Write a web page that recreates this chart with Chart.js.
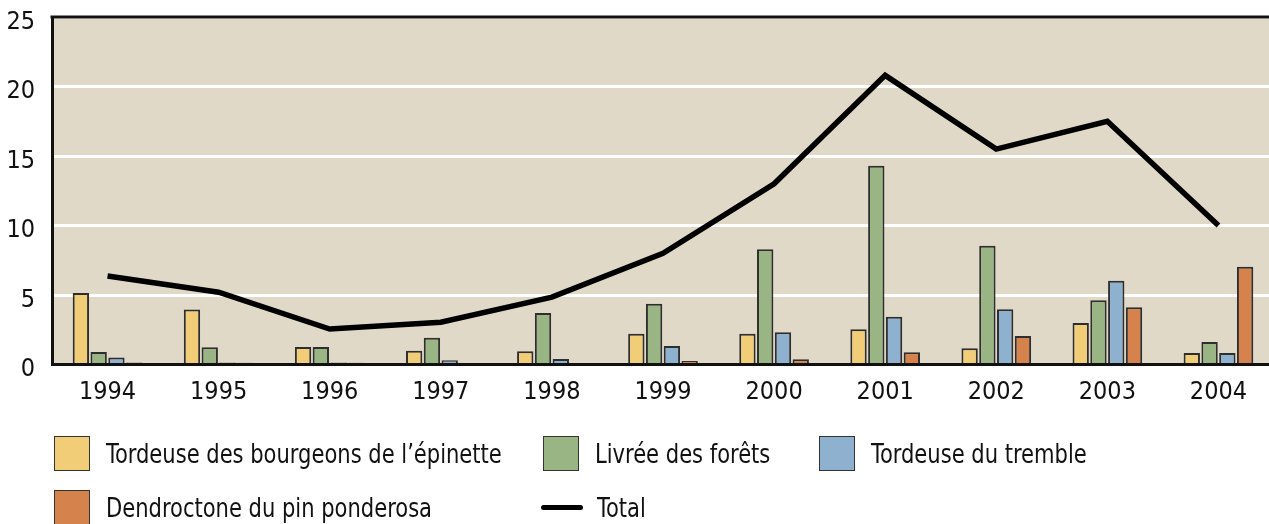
<!DOCTYPE html>
<html lang="fr">
<head>
    <meta charset="UTF-8">
    <title>Superficie defoliee</title>
    <script src="https://cdn.jsdelivr.net/npm/chart.js@4.4.1/dist/chart.umd.min.js"></script>
    <style>
        body { margin: 0; background: #fff; overflow: hidden; }
        #wrap { position: relative; width: 1269px; height: 524px; overflow: hidden; }
        #chart { position: absolute; left: 0; top: 0; }
        .leg { position: absolute; height: 35px; display: flex; align-items: center; white-space: nowrap;
               font: 26px "Liberation Sans Narrow", "DejaVu Sans Condensed", sans-serif; color: #111; }
        .leg .txt { display: inline-block; transform: scaleX(0.9); transform-origin: left center; }
        .box { width: 36px; height: 35px; border: 1.5px solid #333; box-sizing: border-box; margin-right: 16px; }
        .dash { width: 42px; height: 5px; background: #000; border-radius: 3px; margin-right: 14px; }
    </style>
</head>

<body>
    <div id="wrap">
        <canvas id="chart" width="1274" height="524"></canvas>
        <div id="legend"></div>
    </div>
    <script>

        const years = ["1994", "1995", "1996", "1997", "1998", "1999", "2000", "2001", "2002", "2003", "2004"];

        // values
        const tordeuseEpinette = [5.15, 3.95, 1.26, 0.99, 0.95, 2.22, 2.22, 2.53, 1.17, 2.99, 0.83];
        const livreeForets = [0.9, 1.25, 1.26, 1.93, 3.7, 4.37, 8.29, 14.3, 8.55, 4.62, 1.62];
        const tordeuseTremble = [0.5, 0.15, 0.15, 0.3, 0.4, 1.33, 2.32, 3.44, 3.97, 6.03, 0.83];
        const dendroctone = [0.15, 0.12, 0.12, 0.1, 0.1, 0.25, 0.37, 0.88, 2.05, 4.11, 7.04];
        const total = [6.37, 5.2, 2.55, 3.04, 4.85, 8.0, 13.0, 20.8, 15.5, 17.5, 10.0];

        const yTicks = [0, 5, 10, 15, 20, 25];

        const fontFam = '"Liberation Sans Narrow", "DejaVu Sans Condensed", sans-serif';

        const barSets = [
            { label: "Tordeuse des bourgeons de l\u2019\u00e9pinette", data: tordeuseEpinette, color: "#f1cd78" },
            { label: "Livr\u00e9e des for\u00eats", data: livreeForets, color: "#98b583" },
            { label: "Tordeuse du tremble", data: tordeuseTremble, color: "#8eb1d0" },
            { label: "Dendroctone du pin ponderosa", data: dendroctone, color: "#d5824d" }
        ];

        // beige plot background + top frame line
        const frame = {
            id: "frame",
            beforeDraw(chart) {
                const a = chart.chartArea;
                const ctx = chart.ctx;
                ctx.save();
                ctx.fillStyle = "#e1d9c8";
                ctx.fillRect(a.left, a.top, a.right - a.left, a.bottom - a.top);
                ctx.restore();
            },
            afterDraw(chart) {
                const a = chart.chartArea;
                const ctx = chart.ctx;
                ctx.save();
                ctx.strokeStyle = "#111";
                ctx.lineWidth = 3;
                ctx.beginPath();
                ctx.moveTo(a.left - 1.5, a.top);
                ctx.lineTo(a.right, a.top);
                ctx.stroke();
                ctx.restore();
            }
        };

        const datasets = [{
            type: "line",
            label: "Total",
            data: total,
            borderColor: "#000",
            borderWidth: 5.5,
            pointRadius: 0,
            tension: 0,
            order: 0
        }];
        barSets.forEach(s => {
            datasets.push({
                type: "bar",
                label: s.label,
                data: s.data,
                backgroundColor: s.color,
                borderColor: "#2e2e2e",
                borderWidth: 2,
                categoryPercentage: 0.64,
                barPercentage: 0.92,
                order: 1
            });
        });

        const ctx = document.getElementById("chart").getContext("2d");
        const myChart = new Chart(ctx, {
            data: { labels: years, datasets: datasets },
            plugins: [frame],
            options: {
                responsive: false,
                animation: false,
                layout: { padding: { top: 17, right: 0, left: 0, bottom: 0 } },
                plugins: { legend: { display: false }, tooltip: { enabled: false } },
                scales: {
                    x: {
                        grid: { display: false, drawTicks: false },
                        border: { color: "#111", width: 3 },
                        ticks: { color: "#111", font: { family: fontFam, size: 25 }, padding: 13, maxRotation: 0 },
                        afterFit(scale) { scale.height = 524 - 364.5; }
                    },
                    y: {
                        min: 0,
                        max: 25,
                        afterBuildTicks(scale) { scale.ticks = yTicks.map(v => ({ value: v })); },
                        grid: { color: "#ffffff", lineWidth: 3, drawTicks: false },
                        border: { color: "#111", width: 3 },
                        ticks: { color: "#111", font: { family: fontFam, size: 25 }, padding: 17, labelOffset: 5 },
                        afterFit(scale) {
                            scale.width = 52;
                            scale.paddingTop = 0;
                            scale.paddingBottom = 0;
                        }
                    }
                }
            }
        });

        // legend built from the chart's datasets
        const legendPos = [
            { left: 54, top: 436 }, // Tordeuse epinette
            { left: 543, top: 436 }, // Livree
            { left: 819, top: 436 }, // Tordeuse tremble
            { left: 54, top: 490 }, // Dendroctone
        ];
        const legEl = document.getElementById("legend");
        barSets.forEach((s, i) => {
            const d = document.createElement("div");
            d.className = "leg";
            d.style.left = legendPos[i].left + "px";
            d.style.top = legendPos[i].top + "px";
            d.innerHTML = '<span class="box" style="background:' + s.color + '"></span><span class="txt">' + s.label + '</span>';
            legEl.appendChild(d);
        });
        const t = document.createElement("div");
        t.className = "leg";
        t.style.left = "541px";
        t.style.top = "490px";
        t.innerHTML = '<span class="dash"></span><span class="txt">Total</span>';
        legEl.appendChild(t);

    </script>
</body>

</html>
